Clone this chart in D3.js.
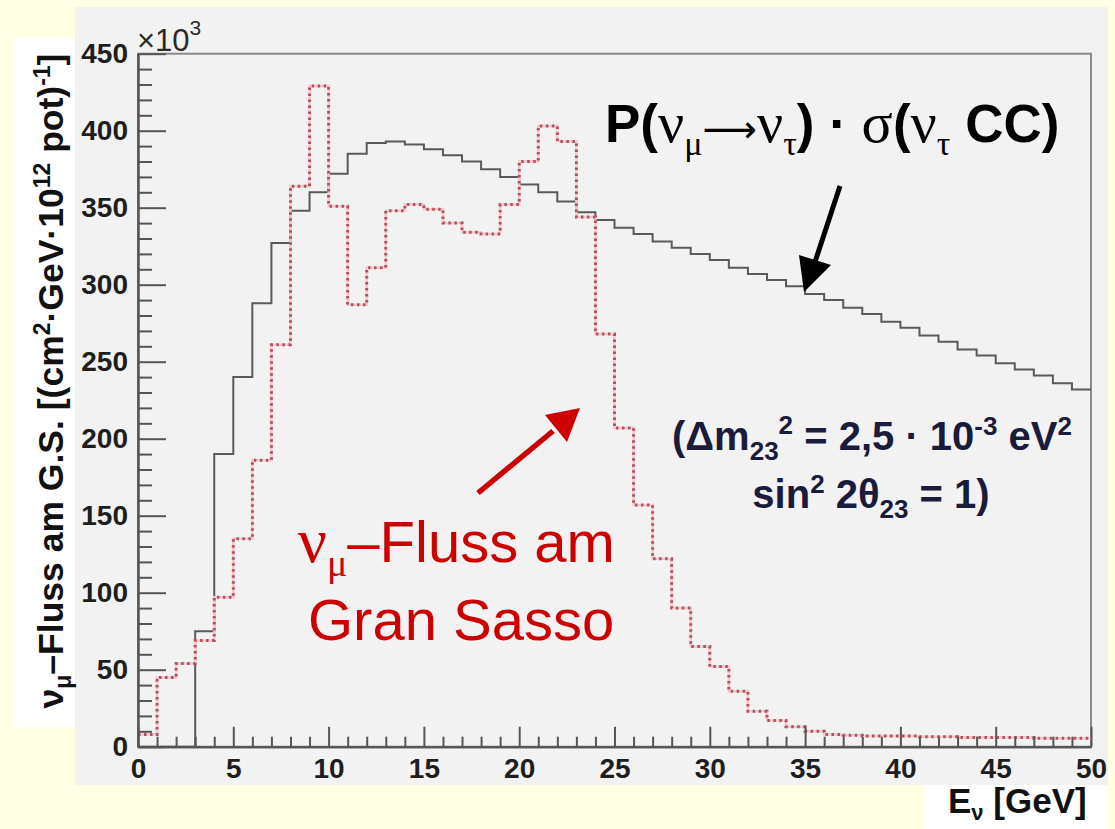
<!DOCTYPE html>
<html>
<head>
<meta charset="utf-8">
<script src="https://cdn.jsdelivr.net/npm/d3@7"></script>
<style>
  html, body { margin: 0; padding: 0; background: #ffffe3; }
  svg { display: block; }
</style>
</head>
<body>
<svg id="chart" width="1115" height="829"></svg>
<script>
// ---------------- data ----------------
const energyEdges = [0,1,2,3,4,5,6,7,8,9,10,11,12,13,14,15,16,17,18,19,20,21,22,23,24,25,
  26,27,28,29,30,31,32,33,34,35,36,37,38,39,40,41,42,43,44,45,46,47,48,49,50];

// P(numu->nutau) * sigma(nutau CC), x10^3
const oscTimesSigma = [0,0,0,75,190,240,288,327,348,360,372,385,392,393,391,388,384,380,375,370,
  365,360,354,347,342,337,333,328,324,320,316,311,307,303,299,294,290,285,281,276,
  272,267,263,258,254,249,245,241,236,232];

// numu flux at Gran Sasso, x10^3
const numuFlux = [8,45,54,69,97,135,186,261,364,429,351,287,311,348,352,349,340,334,333,352,
  380,403,393,344,268,207,157,122,90,65,52,36,23,17,13,10,8,7.5,7,7,
  7,6.5,6.5,6,6,6,6,5.5,5.5,5.5];

const yMajorTicks = [0,50,100,150,200,250,300,350,400,450];
const xMajorTicks = [0,5,10,15,20,25,30,35,40,45,50];

// ---------------- layout ----------------
const svg = d3.select("#chart");
const W = 1115, H = 829;
const L = 138, R = 1091, T = 53.7, B = 746.7;
const sans = "'Liberation Sans', Arial, Helvetica, sans-serif";
const serif = "'Liberation Serif', 'Times New Roman', serif";

svg.append("rect").attr("width", W).attr("height", H).attr("fill", "#ffffe3");
// pad
svg.append("rect").attr("x", 75).attr("y", 7).attr("width", 1108 - 75).attr("height", 785 - 7)
  .attr("fill", "#f2f2f2");
// white label boxes
svg.append("rect").attr("x", 13).attr("y", 37).attr("width", 62).attr("height", 690).attr("fill", "#ffffff");
svg.append("rect").attr("x", 924).attr("y", 785).attr("width", 184).attr("height", 44).attr("fill", "#ffffff");

const x = d3.scaleLinear().domain([0, 50]).range([L, R]);
const y = d3.scaleLinear().domain([0, 450]).range([B, T]);

// frame
svg.append("rect").attr("x", L).attr("y", T).attr("width", R - L).attr("height", B - T)
  .attr("fill", "none").attr("stroke", "#8a8a8a").attr("stroke-width", 2);

// ---------------- histograms ----------------
function stepPoints(vals) {
  return energyEdges.map((e, i) => [e, i < vals.length ? vals[i] : vals[vals.length - 1]]);
}
const line = d3.line().x(d => x(d[0])).y(d => y(d[1])).curve(d3.curveStepAfter);

svg.append("path").datum(stepPoints(oscTimesSigma)).attr("d", line)
  .attr("fill", "none").attr("stroke", "#5a5a5a").attr("stroke-width", 2);

svg.append("path").datum(stepPoints(numuFlux)).attr("d", line)
  .attr("fill", "none").attr("stroke", "#f4c6ca").attr("stroke-width", 2.5);
svg.append("path").datum(stepPoints(numuFlux)).attr("d", line)
  .attr("fill", "none").attr("stroke", "#b5505e").attr("stroke-width", 3)
  .attr("stroke-dasharray", "2.5,3.5");

// ---------------- axes ----------------
const yAxisMajor = d3.axisLeft(y).tickValues(yMajorTicks).tickSizeInner(-28).tickSizeOuter(0).tickPadding(10)
  .tickFormat(d3.format("d"));
const yAxisMinor = d3.axisLeft(y).tickValues(d3.range(0, 451, 10).filter(v => v % 50 !== 0))
  .tickSizeInner(-14).tickSizeOuter(0).tickFormat("");
const xAxisMajor = d3.axisBottom(x).tickValues(xMajorTicks).tickSizeInner(-20).tickSizeOuter(0).tickPadding(11)
  .tickFormat(d3.format("d"));
const xAxisMinor = d3.axisBottom(x).tickValues(d3.range(0, 51, 1).filter(v => v % 5 !== 0))
  .tickSizeInner(-10).tickSizeOuter(0).tickFormat("");

function styleAxis(g) {
  g.selectAll(".domain").attr("stroke", "#555").attr("stroke-width", 2);
  g.selectAll(".tick line").attr("stroke", "#555").attr("stroke-width", 2);
  g.selectAll(".tick text").attr("font-family", sans).attr("font-weight", "bold")
    .attr("font-size", 28).attr("fill", "#1e1e1e");
}
svg.append("g").attr("transform", `translate(${L},0)`).call(yAxisMinor).call(styleAxis);
svg.append("g").attr("transform", `translate(${L},0)`).call(yAxisMajor).call(styleAxis);
svg.append("g").attr("transform", `translate(0,${B})`).call(xAxisMinor).call(styleAxis);
svg.append("g").attr("transform", `translate(0,${B})`).call(xAxisMajor).call(styleAxis);

// x10^3
const mult = svg.append("text").attr("x", 137).attr("y", 51).attr("font-family", sans)
  .attr("font-size", 31).attr("fill", "#2a2a2a");
mult.append("tspan").text("×10");
mult.append("tspan").attr("font-size", 21).attr("dy", -16).text("3");

// ---------------- axis titles ----------------
const xt = svg.append("text").attr("x", 948).attr("y", 813).attr("font-family", sans)
  .attr("font-weight", "bold").attr("font-size", 35).attr("fill", "#111");
xt.append("tspan").text("E");
xt.append("tspan").attr("font-size", 22).attr("dy", 7).text("ν");
xt.append("tspan").attr("dy", -7).text(" [GeV]");

const yt = svg.append("text").attr("transform", "translate(63,381) rotate(-90)")
  .attr("text-anchor", "middle").attr("font-family", sans).attr("font-weight", "bold")
  .attr("font-size", 35.5).attr("fill", "#111");
yt.append("tspan").text("ν");
yt.append("tspan").attr("font-size", 23).attr("dy", 8).text("μ");
yt.append("tspan").attr("dy", -8).text("–Fluss am G.S. [(cm");
yt.append("tspan").attr("font-size", 23).attr("dy", -13).text("2");
yt.append("tspan").attr("dy", 13).text("·GeV·10");
yt.append("tspan").attr("font-size", 23).attr("dy", -13).text("12");
yt.append("tspan").attr("dy", 13).text(" pot)");
yt.append("tspan").attr("font-size", 23).attr("dy", -13).text("-1");
yt.append("tspan").attr("dy", 13).text("]");

// ---------------- annotations ----------------
const title = svg.append("text").attr("x", 605).attr("y", 142).attr("font-family", sans)
  .attr("font-weight", "bold").attr("font-size", 53).attr("fill", "#000");
title.append("tspan").text("P(");
title.append("tspan").attr("font-family", serif).attr("font-weight", "normal").attr("font-size", 58).text("ν");
title.append("tspan").attr("font-family", serif).attr("font-weight", "normal").attr("font-size", 34).attr("dy", 13).text("μ");
title.append("tspan").attr("font-family", "'DejaVu Sans', sans-serif").attr("font-weight", "normal").attr("font-size", 38).attr("dy", -13).text("⟶");
title.append("tspan").attr("font-family", serif).attr("font-weight", "normal").attr("font-size", 58).text("ν");
title.append("tspan").attr("font-family", serif).attr("font-weight", "normal").attr("font-size", 34).attr("dy", 13).text("τ");
title.append("tspan").attr("dy", -13).text(") · ");
title.append("tspan").attr("font-family", serif).attr("font-weight", "normal").attr("font-size", 58).text("σ");
title.append("tspan").text("(");
title.append("tspan").attr("font-family", serif).attr("font-weight", "normal").attr("font-size", 58).text("ν");
title.append("tspan").attr("font-family", serif).attr("font-weight", "normal").attr("font-size", 34).attr("dy", 13).text("τ");
title.append("tspan").attr("dy", -13).text(" CC)");

// black arrow
svg.append("line").attr("x1", 840).attr("y1", 186).attr("x2", 815).attr("y2", 262)
  .attr("stroke", "#000").attr("stroke-width", 5);
svg.append("polygon").attr("points", "799,255 831,265 804,292").attr("fill", "#000");

// red arrow
svg.append("line").attr("x1", 478).attr("y1", 493).attr("x2", 553).attr("y2", 431)
  .attr("stroke", "#cc0000").attr("stroke-width", 5.5);
svg.append("polygon").attr("points", "545,415 567,442 580,408").attr("fill", "#cc0000");

// red label
const rl1 = svg.append("text").attr("x", 298).attr("y", 562).attr("font-family", sans)
  .attr("font-size", 58).attr("fill", "#cc0000");
rl1.append("tspan").attr("font-family", serif).attr("font-size", 64).text("ν");
rl1.append("tspan").attr("font-family", serif).attr("font-size", 38).attr("dy", 14).text("μ");
rl1.append("tspan").attr("dy", -14).text("–Fluss am");
svg.append("text").attr("x", 308).attr("y", 640).attr("font-family", sans)
  .attr("font-size", 58).attr("fill", "#cc0000").text("Gran Sasso");

// oscillation parameters
const p1 = svg.append("text").attr("x", 872).attr("y", 450).attr("text-anchor", "middle")
  .attr("font-family", sans).attr("font-weight", "bold").attr("font-size", 40).attr("fill", "#1b1b3c");
p1.append("tspan").text("(Δm");
p1.append("tspan").attr("font-size", 26).attr("dy", 10).text("23");
p1.append("tspan").attr("font-size", 26).attr("dy", -26).text("2");
p1.append("tspan").attr("dy", 16).text(" = 2,5 · 10");
p1.append("tspan").attr("font-size", 26).attr("dy", -15).text("-3");
p1.append("tspan").attr("dy", 15).text(" eV");
p1.append("tspan").attr("font-size", 26).attr("dy", -15).text("2");

const p2 = svg.append("text").attr("x", 871).attr("y", 508).attr("text-anchor", "middle")
  .attr("font-family", sans).attr("font-weight", "bold").attr("font-size", 40).attr("fill", "#1b1b3c");
p2.append("tspan").text("sin");
p2.append("tspan").attr("font-size", 26).attr("dy", -15).text("2");
p2.append("tspan").attr("dy", 15).text(" 2θ");
p2.append("tspan").attr("font-size", 26).attr("dy", 10).text("23");
p2.append("tspan").attr("dy", -10).text(" = 1)");
</script>
</body>
</html>
